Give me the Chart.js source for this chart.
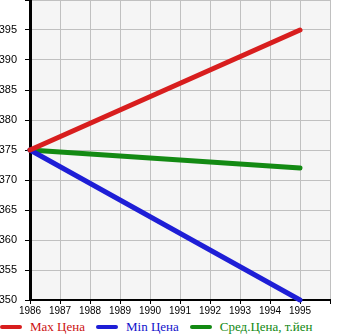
<!DOCTYPE html>
<html lang="ru">
<head>
  <meta charset="UTF-8">
  <title>Цены</title>
  <script src="https://cdn.jsdelivr.net/npm/chart.js"></script>
  <style>
    body { margin: 0; background: #fff; width: 345px; height: 335px; overflow: hidden; }
    #wrap { position: relative; width: 345px; height: 318px; }
    .legend { display: flex; height: 17px; align-items: center; font-family: 'Liberation Serif', serif; font-size: 13px; white-space: nowrap; }
    .legend span.sw { display: inline-block; width: 22px; height: 4px; border-radius: 2px; margin-right: 8px; }
    .legend .item { display: flex; align-items: center; margin-right: 11px; }
  </style>
</head>
<body>
  <div id="wrap"><canvas id="chart" width="345" height="318"></canvas></div>
  <div class="legend" id="legend"></div>

  <script>
    const years = [1986, 1995];
    const maxPrice = [375, 395];
    const minPrice = [375, 350];
    const avgPrice = [375, 372];
    const seriesNames = ['Max Цена', 'Min Цена', 'Сред.Цена, т.йен'];
    const lineColors = ['#d81e1e', '#1e1ed6', '#138a13'];
    const textColors = ['#cc1111', '#1111cc', '#118811'];

    const plotBg = {
      id: 'plotBg',
      beforeDraw(chart) {
        const a = chart.chartArea, ctx = chart.ctx;
        ctx.save();
        ctx.fillStyle = '#f5f5f5';
        ctx.fillRect(a.left, a.top, a.right - a.left, a.bottom - a.top);
        ctx.restore();
      }
    };

    function pts(vals) {
      return vals.map((v, i) => ({ x: years[i], y: v }));
    }

    const sets = [maxPrice, minPrice, avgPrice].map((vals, i) => ({
      label: seriesNames[i],
      data: pts(vals),
      borderColor: lineColors[i],
      borderWidth: 5,
      borderCapStyle: 'round',
      pointRadius: 0,
      clip: false
    }));

    new Chart(document.getElementById('chart'), {
      type: 'line',
      data: { datasets: sets },
      plugins: [plotBg],
      options: {
        responsive: false,
        animation: false,
        layout: { padding: { top: 0, right: 15, left: 0, bottom: 0 } },
        plugins: { legend: { display: false }, tooltip: { enabled: false } },
        scales: {
          x: {
            type: 'linear',
            min: 1986, max: 1996,
            afterFit(s) { s.height = 18; s.paddingLeft = 0; s.paddingRight = 0; },
            border: { color: '#000', width: 2 },
            grid: { color: '#c0c0c0', tickColor: '#000', tickLength: 4 },
            ticks: {
              stepSize: 1, padding: 1, color: '#000',
              font: { family: 'Liberation Sans', size: 10 },
              callback: v => v === 1996 ? '' : String(v),
              maxRotation: 0, autoSkip: false
            }
          },
          y: {
            min: 350, max: 400,
            afterFit(s) { s.width = 30; s.paddingTop = 0; s.paddingBottom = 0; },
            border: { color: '#000', width: 3 },
            grid: { color: '#c0c0c0', tickColor: '#000', tickLength: 5 },
            ticks: {
              stepSize: 5, padding: 8, color: '#000',
              font: { family: 'Liberation Sans', size: 11 },
              callback: v => v === 400 ? '' : String(v)
            }
          }
        }
      }
    });

    const legend = document.getElementById('legend');
    seriesNames.forEach((name, i) => {
      const item = document.createElement('div');
      item.className = 'item';
      item.innerHTML = '<span class="sw" style="background:' + lineColors[i] + '"></span>' +
        '<span style="color:' + textColors[i] + '">' + name + '</span>';
      legend.appendChild(item);
    });
  </script>
</body>
</html>
